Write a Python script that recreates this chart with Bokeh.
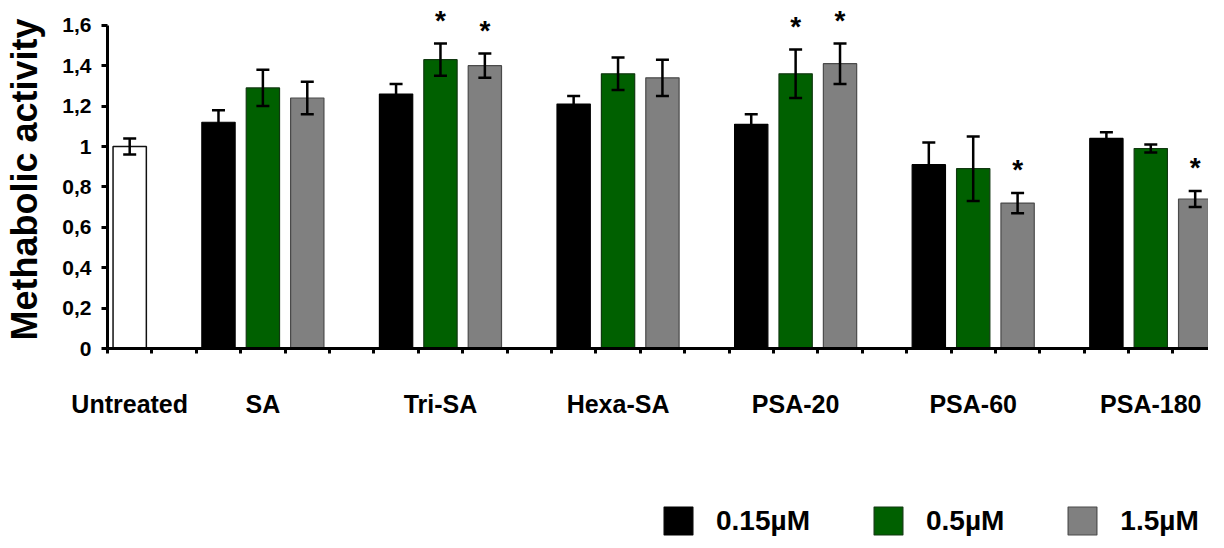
import numpy as np
from bokeh.plotting import figure
from bokeh.layouts import column
from bokeh.models import (ColumnDataSource, Whisker, TeeHead, FixedTicker, Legend,
                          LegendItem, Range1d)
from bokeh.core.properties import value
from bokeh.embed import file_html
from bokeh.resources import INLINE

# ---------------- data ----------------
categories = ["Untreated", "SA", "Tri-SA", "Hexa-SA", "PSA-20", "PSA-60", "PSA-180"]
untreated_value = [1.00]
untreated_err = [0.04]

treated = ["SA", "Tri-SA", "Hexa-SA", "PSA-20", "PSA-60", "PSA-180"]
series_names = ["0.15\u00b5M", "0.5\u00b5M", "1.5\u00b5M"]
low_vals = [1.12, 1.26, 1.21, 1.11, 0.91, 1.04]
low_err = [0.06, 0.05, 0.04, 0.05, 0.11, 0.03]
mid_vals = [1.29, 1.43, 1.36, 1.36, 0.89, 0.99]
mid_err = [0.09, 0.08, 0.08, 0.12, 0.16, 0.02]
high_vals = [1.24, 1.40, 1.34, 1.41, 0.72, 0.74]
high_err = [0.08, 0.06, 0.09, 0.10, 0.05, 0.04]
low_sig = [0, 0, 0, 0, 0, 0]
mid_sig = [0, 1, 0, 1, 0, 0]
high_sig = [0, 1, 0, 1, 1, 1]

y_ticks = [0, 0.2, 0.4, 0.6, 0.8, 1.0, 1.2, 1.4, 1.6]
y_tick_labels = ["0", "0,2", "0,4", "0,6", "0,8", "1", "1,2", "1,4", "1,6"]

# ---------------- style ----------------
FONT = "Liberation Sans"
colors = ["#000000", "#006000", "#808080"]
outlines = ["#000000", "#103810", "#4a4a4a"]

# ---------------- layout of slots ----------------
gi = np.arange(len(treated))
slot_x = [2 + 4 * gi, 3 + 4 * gi, 4 + 4 * gi]
cat_ticks = [0] + list(3 + 4 * gi)

frame_h = 338
px_per_unit = 202.0
p = figure(width=1208, height=478, output_backend="svg", toolbar_location=None,
           x_range=Range1d(-0.5, 24.3), y_range=Range1d(0, frame_h / px_per_unit),
           min_border_left=107, min_border_right=0, min_border_top=10,
           min_border_bottom=130, frame_height=frame_h, frame_width=1101)
p.outline_line_color = None
p.xgrid.visible = False
p.ygrid.visible = False

bw = 0.75
# untreated
usrc = ColumnDataSource(dict(x=[0], top=untreated_value,
                             upper=[untreated_value[0] + untreated_err[0]],
                             lower=[untreated_value[0] - untreated_err[0]]))
p.vbar(x="x", top="top", width=bw, source=usrc, fill_color="white",
       line_color="#111111", line_width=1.5)

star_x, star_y = [], []
all_series = [(low_vals, low_err, low_sig), (mid_vals, mid_err, mid_sig),
              (high_vals, high_err, high_sig)]
whisk_srcs = [usrc]
for k, (vals, errs, sig) in enumerate(all_series):
    vals = np.array(vals)
    errs = np.array(errs)
    src = ColumnDataSource(dict(x=slot_x[k], top=vals, upper=vals + errs,
                                lower=vals - errs))
    p.vbar(x="x", top="top", width=bw, source=src, fill_color=colors[k],
           line_color=outlines[k], line_width=1.2)
    whisk_srcs.append(src)
    for i, s in enumerate(sig):
        if s:
            star_x.append(float(slot_x[k][i]))
            star_y.append(float(vals[i] + errs[i]))

for src in whisk_srcs:
    w = Whisker(base="x", upper="upper", lower="lower", source=src,
                line_color="black", line_width=2.5, level="overlay",
                upper_head=TeeHead(size=13, line_color="black", line_width=2.5),
                lower_head=TeeHead(size=13, line_color="black", line_width=2.5))
    p.add_layout(w)

ssrc = ColumnDataSource(dict(x=star_x, y=star_y, t=["*"] * len(star_x)))
p.text(x="x", y="y", text="t", source=ssrc, text_font=value(FONT),
       text_font_style="bold", text_font_size="28px", text_align="center",
       text_baseline="alphabetic", y_offset=-23, text_color="black")

# ---------------- axes ----------------
xa = p.xaxis[0]
xa.ticker = FixedTicker(ticks=cat_ticks, minor_ticks=list(np.arange(-0.5, 24.4, 1.0)))
xa.major_label_overrides = {int(t): c for t, c in zip(cat_ticks, categories)}
xa.major_label_text_font = FONT
xa.major_label_text_font_style = "bold"
xa.major_label_text_font_size = "25px"
xa.major_label_text_color = "black"
xa.major_label_standoff = 36
xa.major_tick_out = 0
xa.major_tick_in = 0
xa.minor_tick_out = 5
xa.minor_tick_in = 0
xa.minor_tick_line_width = 3
xa.minor_tick_line_color = "black"
xa.axis_line_width = 3
xa.axis_line_color = "black"

ya = p.yaxis[0]
ya.ticker = FixedTicker(ticks=y_ticks)
ya.major_label_overrides = dict(zip(y_ticks, y_tick_labels))
ya.bounds = (0, 1.6)
ya.major_label_text_font = FONT
ya.major_label_text_font_style = "bold"
ya.major_label_text_font_size = "21px"
ya.major_label_text_color = "black"
ya.major_label_standoff = 10
ya.major_tick_out = 6
ya.major_tick_in = 0
ya.major_tick_line_width = 3
ya.minor_tick_out = 0
ya.minor_tick_in = 0
ya.axis_line_width = 3
ya.axis_line_color = "black"
ya.axis_label = "Methabolic activity"
ya.axis_label_text_font = FONT
ya.axis_label_text_font_style = "bold"
ya.axis_label_text_font_size = "36px"
ya.axis_label_text_color = "black"
ya.axis_label_standoff = 14

# ---------------- legend (separate strip) ----------------
lf = figure(width=1208, height=60, output_backend="svg", toolbar_location=None,
            x_range=Range1d(0, 1), y_range=Range1d(0, 1),
            x_axis_location=None, y_axis_location=None, min_border=0)
lf.outline_line_color = None
lf.xgrid.visible = False
lf.ygrid.visible = False
leg_renderers = []
for k in range(3):
    r = lf.vbar(x=[5], top=[0], width=0.1, fill_color=colors[k],
                line_color=outlines[k], line_width=1.2)
    leg_renderers.append(r)
legend = Legend(items=[LegendItem(label=n, renderers=[r]) for n, r in zip(series_names, leg_renderers)],
                orientation="horizontal", location=(553, 0),
                glyph_width=36, glyph_height=35, label_standoff=20, spacing=60,
                padding=0, margin=0, border_line_color=None,
                background_fill_alpha=0,
                label_text_font=FONT, label_text_font_style="bold",
                label_text_font_size="28px", label_text_color="black")
lf.add_layout(legend, "center")

layout = column(p, lf, spacing=0)
open("out.html", "w").write(file_html(layout, INLINE))
